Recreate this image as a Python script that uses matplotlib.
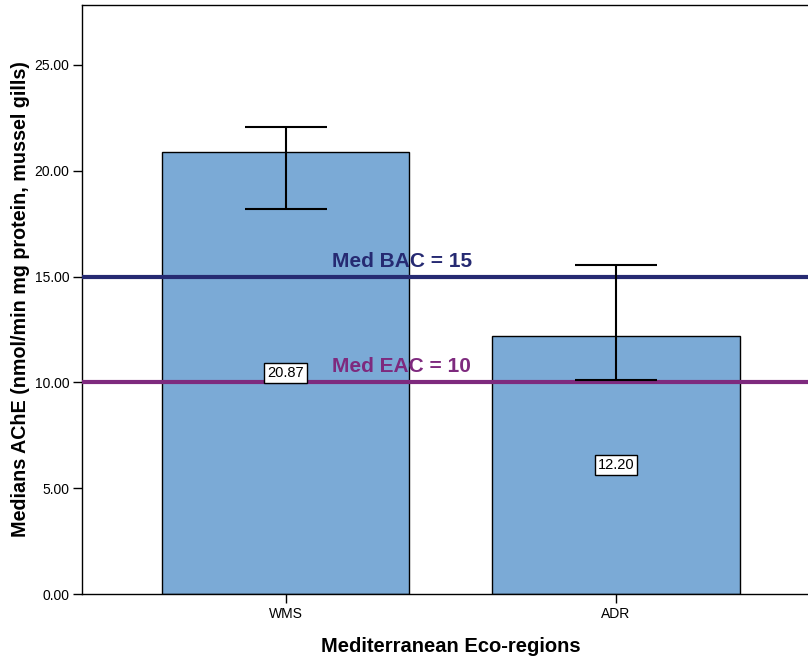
import matplotlib
matplotlib.use("Agg")
import matplotlib.pyplot as plt

categories = ["WMS", "ADR"]
medians = [20.87, 12.20]
err_low = [18.19, 10.11]
err_high = [22.07, 15.55]
bac_value = 15
eac_value = 10
yticks = [0, 5, 10, 15, 20, 25]

plt.rcParams['font.family'] = ['Liberation Sans', 'DejaVu Sans']

fig = plt.figure(figsize=(8.08, 6.57), dpi=100)
W, H = 808, 657
left, right, top, bottom = 82, 819.5, 5, 594
ax = fig.add_axes([left / W, 1 - bottom / H, (right - left) / W, (bottom - top) / H])

x = list(range(len(categories)))
bar_color = "#7BAAD6"
ax.bar(x, medians, width=0.75, color=bar_color, edgecolor="black", linewidth=1.0, zorder=2)

yerr = [[m - lo for m, lo in zip(medians, err_low)], [hi - m for m, hi in zip(medians, err_high)]]
ax.errorbar(x, medians, yerr=yerr, fmt="none", ecolor="black", elinewidth=1.5,
            capsize=29.5, capthick=1.5, zorder=4)

ax.axhline(bac_value, color="#262A72", linewidth=3, zorder=3)
ax.axhline(eac_value, color="#7E2A7E", linewidth=3, zorder=3)
ax.text(0.352, bac_value + 0.72, "Med BAC = 15", color="#262A72", fontsize=15,
        fontweight="bold", ha="center", va="center", zorder=5)
ax.text(0.352, eac_value + 0.75, "Med EAC = 10", color="#7E2A7E", fontsize=15,
        fontweight="bold", ha="center", va="center", zorder=5)

for xi, m in zip(x, medians):
    ax.text(xi, m / 2, f"{m:.2f}", fontsize=10.5, ha="center", va="center", zorder=6,
            bbox=dict(boxstyle="square,pad=0.2", facecolor="white", edgecolor="black", linewidth=1))

ax.set_xlim(-0.617, 1.617)
ax.set_ylim(0, 27.83)
ax.set_xticks(x)
ax.set_xticklabels(categories, fontsize=10)
ax.set_yticks(yticks)
ax.set_yticklabels([f"{v:.2f}" for v in yticks], fontsize=10)
ax.tick_params(axis="both", length=6.5, width=1, direction="out", pad=2.5)
ax.spines["right"].set_visible(False)
for s in ["left", "bottom", "top"]:
    ax.spines[s].set_linewidth(1)

ax.set_xlabel("Mediterranean Eco-regions", fontsize=14.5, fontweight="bold", labelpad=12)
ax.set_ylabel("Medians AChE (nmol/min mg protein, mussel gills)", fontsize=14.2,
              fontweight="bold", labelpad=3)

fig.savefig("out.png", dpi=100)
